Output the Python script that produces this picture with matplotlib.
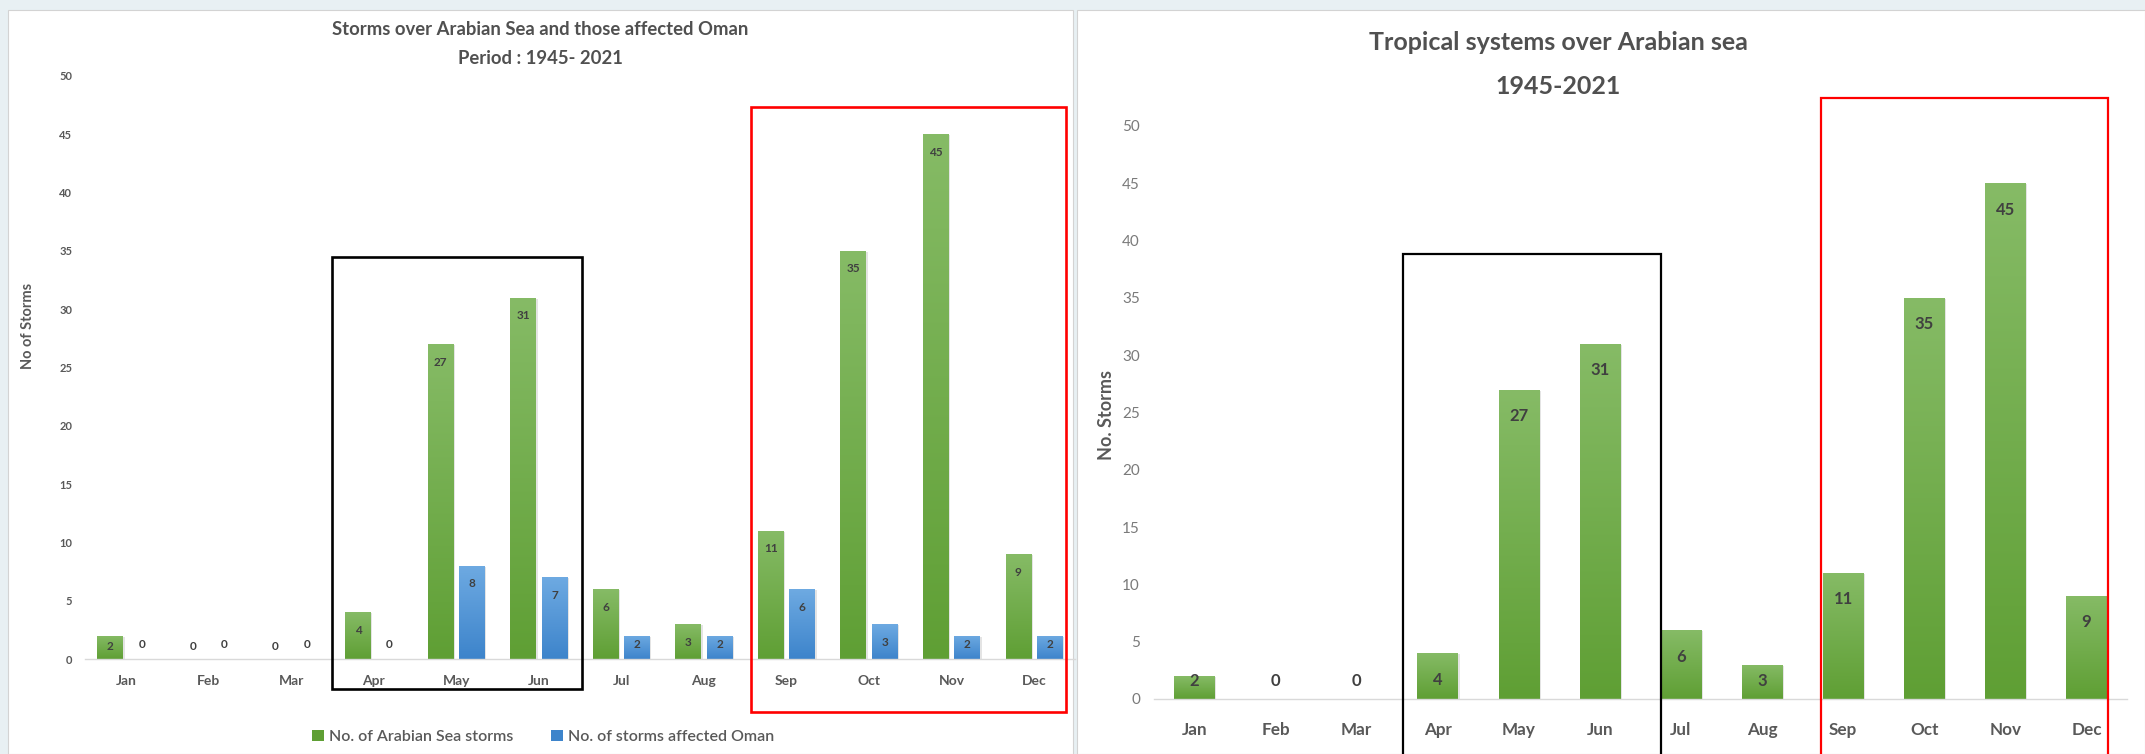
import numpy as np
import matplotlib
matplotlib.use("Agg")
import matplotlib.pyplot as plt
from matplotlib.patches import Rectangle, Patch
from matplotlib.colors import LinearSegmentedColormap
import matplotlib.patheffects as pe

# ---- data -------------------------------------------------------------
months = ["Jan", "Feb", "Mar", "Apr", "May", "Jun",
          "Jul", "Aug", "Sep", "Oct", "Nov", "Dec"]
arabian_sea_storms = [2, 0, 0, 4, 27, 31, 6, 3, 11, 35, 45, 9]
storms_affected_oman = [0, 0, 0, 0, 8, 7, 2, 2, 6, 3, 2, 2]
tropical_systems = [2, 0, 0, 4, 27, 31, 6, 3, 11, 35, 45, 9]
y_ticks = [0, 5, 10, 15, 20, 25, 30, 35, 40, 45, 50]

left_title = ["Storms over Arabian Sea and those affected Oman",
              "Period : 1945- 2021"]
right_title = ["Tropical systems over Arabian sea", "1945-2021"]
left_ylabel = "No of Storms"
right_ylabel = "No. Storms"
legend_labels = ["No. of Arabian Sea storms", "No. of storms affected Oman"]

# ---- style ------------------------------------------------------------
W, H = 2145, 754
FONT = ["Lato", "DejaVu Sans"]
GREEN_TOP, GREEN_BOT = "#86bb66", "#5f9f34"
BLUE_TOP, BLUE_BOT = "#6eaae2", "#3d84cb"
TEXT_DARK = "#404040"
TEXT_MID = "#595959"
TEXT_LIGHT = "#7a7a7a"

plt.rcParams["font.family"] = FONT


def fx(px):
    return px / W


def fy(py):
    return 1 - py / H


fig = plt.figure(figsize=(W / 100, H / 100), dpi=100, facecolor="#e8f0f3")

# white panels behind the two charts
fig.patches.append(Rectangle((fx(8), 0), fx(1073) - fx(8), fy(10),
                             transform=fig.transFigure, facecolor="white",
                             edgecolor="#d3d3d3", lw=0.8, zorder=-10))
fig.patches.append(Rectangle((fx(1077), 0), 1 - fx(1077), fy(10),
                             transform=fig.transFigure, facecolor="white",
                             edgecolor="#d3d3d3", lw=0.8, zorder=-10))

axL = fig.add_axes([fx(84.7), fy(659), fx(990.6), 583 / H])
axR = fig.add_axes([fx(1153.9), fy(699), fx(973.1), 573 / H])
axL.set_zorder(1)
axR.set_zorder(1)

shadow = [pe.SimplePatchShadow(offset=(1.2, -0.8), shadow_rgbFace="#a8a8a8",
                               alpha=0.3), pe.Normal()]


def gradient_fill(ax, bars, top, bottom):
    cmap = LinearSegmentedColormap.from_list("bar_grad", [bottom, top])
    grad = np.linspace(0, 1, 256).reshape(-1, 1)
    for b in bars:
        b.set_path_effects(shadow)
        h = b.get_height()
        if h <= 0:
            continue
        x0, w = b.get_x(), b.get_width()
        im = ax.imshow(grad, cmap=cmap, origin="lower", aspect="auto",
                       extent=(x0, x0 + w, 0, h), interpolation="bilinear",
                       zorder=b.get_zorder() + 0.1)
        im.set_clip_path(b)


def value_labels(ax, bars, values, below_px, min_px, size):
    inv = ax.transData.inverted()
    for b, v in zip(bars, values):
        xc = b.get_x() + b.get_width() / 2
        ytop = ax.transData.transform((xc, v))[1]
        ybase = ax.transData.transform((xc, 0))[1]
        ypix = max(ytop - below_px, ybase + min_px)
        yd = inv.transform((0, ypix))[1]
        ax.text(xc, yd, str(v), ha="center", va="center_baseline",
                fontsize=size, fontweight="bold", color=TEXT_DARK, zorder=5)


def style_axes(ax, xsize, ysize, xpad, ypad, yweight, ycolor):
    ax.set_xlim(-0.5, 11.5)
    ax.set_ylim(0, 50)
    ax.patch.set_visible(False)
    for s in ("top", "left", "right"):
        ax.spines[s].set_visible(False)
    ax.spines["bottom"].set_color("#d9d9d9")
    ax.spines["bottom"].set_linewidth(1.0)
    ax.set_xticks(np.arange(len(months)), months)
    ax.set_yticks(y_ticks)
    ax.tick_params(axis="x", length=0, pad=xpad, labelsize=xsize,
                   labelcolor=TEXT_MID)
    ax.tick_params(axis="y", length=0, pad=ypad, labelsize=ysize,
                   labelcolor=ycolor)
    for t in ax.get_xticklabels():
        t.set_fontweight("bold")
    for t in ax.get_yticklabels():
        t.set_fontweight(yweight)


x = np.arange(len(months))

# ---- left chart: storms vs storms affecting Oman ------------------------
style_axes(axL, 10, 8, 11.5, 9.0, "bold", TEXT_MID)
bars_sea = axL.bar(x - 0.19, arabian_sea_storms, width=0.31,
                   color=GREEN_BOT, zorder=2)
bars_oman = axL.bar(x + 0.19, storms_affected_oman, width=0.31,
                    color=BLUE_BOT, zorder=2)
gradient_fill(axL, bars_sea, GREEN_TOP, GREEN_BOT)
gradient_fill(axL, bars_oman, BLUE_TOP, BLUE_BOT)
axL.set_xlim(-0.5, 11.5)
axL.set_ylim(0, 50)
value_labels(axL, bars_sea, arabian_sea_storms, 17, 14, 8.5)
value_labels(axL, bars_oman, storms_affected_oman, 17, 15, 8.5)

fig.text(fx(540), fy(35), left_title[0], ha="center", va="baseline",
         fontsize=13.3, fontweight="bold", color="#505050")
fig.text(fx(540), fy(64), left_title[1], ha="center", va="baseline",
         fontsize=13.3, fontweight="bold", color="#505050")
fig.text(fx(28), fy(326), left_ylabel, rotation=90, ha="center", va="center",
         fontsize=10.5, fontweight="bold", color=TEXT_MID)

handles = [Patch(facecolor=GREEN_BOT, edgecolor="none"),
           Patch(facecolor=BLUE_BOT, edgecolor="none")]
fig.legend(handles, legend_labels, loc="center",
           bbox_to_anchor=(fx(543), fy(737)), ncol=2, frameon=False,
           handlelength=0.75, handleheight=0.75,
           handletextpad=0.3, columnspacing=2.4,
           prop={"weight": "semibold", "size": 11.5}, labelcolor=TEXT_MID)

# ---- right chart: tropical systems -------------------------------------
style_axes(axR, 12.3, 11, 16.5, 10.0, "normal", TEXT_LIGHT)
bars_trop = axR.bar(x, tropical_systems, width=0.5, color=GREEN_BOT, zorder=2)
gradient_fill(axR, bars_trop, GREEN_TOP, GREEN_BOT)
axR.set_xlim(-0.5, 11.5)
axR.set_ylim(0, 50)
value_labels(axR, bars_trop, tropical_systems, 25, 20, 12)

fig.text(fx(1558), fy(50), right_title[0], ha="center", va="baseline",
         fontsize=18, fontweight="bold", color="#505050")
fig.text(fx(1558), fy(94), right_title[1], ha="center", va="baseline",
         fontsize=18, fontweight="bold", color="#505050")
fig.text(fx(1107), fy(415), right_ylabel, rotation=90, ha="center",
         va="center", fontsize=13, fontweight="bold", color=TEXT_MID)

# ---- highlight frames around the season groups ---------------------------
frames = [
    (axL, (2.50, 5.52), (-2.57, 34.5), "black", 1.9),
    (axL, (7.57, 11.39), (-4.55, 47.3), "#ff0000", 1.9),
    (axR, (2.57, 5.75), (-5.5, 38.8), "black", 1.6),
    (axR, (7.73, 11.27), (-5.5, 52.4), "#ff0000", 1.6),
]
for ax, (x0, x1), (y0, y1), col, lw in frames:
    ax.add_patch(Rectangle((x0, y0), x1 - x0, y1 - y0, fill=False,
                           edgecolor=col, lw=lw, clip_on=False, zorder=10))

fig.savefig("out.png", dpi=100, facecolor=fig.get_facecolor())
